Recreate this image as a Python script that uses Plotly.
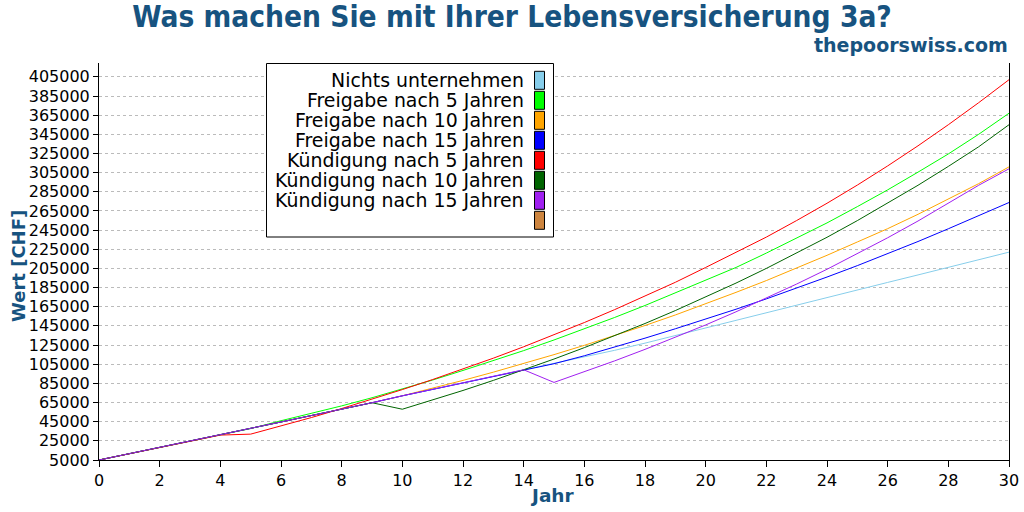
import plotly.graph_objects as go

years = list(range(0, 31))

nichts = [5000, 11500, 18000, 24500, 31000, 37800, 44700, 51400, 58000, 64800,
          72000, 78800, 85600, 92400, 99200, 105500, 112300, 119500, 127000, 135000,
          143000, 151000, 159000, 167000, 174800, 182600, 190400, 198200, 206000, 214000, 222000]

freigabe5 = [5000, 11500, 18000, 24500, 31000, 37800, 46000, 53500, 61500, 70000,
             79000, 88500, 98500, 108700, 119200, 130300, 141800, 153800, 166300, 179300,
             192500, 206000, 221000, 236500, 252500, 269500, 287000, 305500, 324500, 345000, 367000]

freigabe10 = [5000, 11500, 18000, 24500, 31000, 37800, 44700, 51400, 58000, 64800,
              72000, 79900, 88100, 96700, 105600, 115000, 124700, 134800, 145400, 156400,
              168000, 180000, 192300, 205200, 218700, 232600, 246500, 261500, 277500, 293500, 311000]

freigabe15 = [5000, 11500, 18000, 24500, 31000, 37800, 44700, 51400, 58000, 64800,
              72000, 78800, 85600, 92400, 99200, 105500, 113800, 122800, 132200, 142000,
              152000, 162400, 173200, 184400, 196000, 207900, 220300, 233100, 246400, 260100, 273800]

kuendigung5 = [5000, 11500, 18000, 24500, 31000, 32000, 40500, 49300, 58700, 68500,
               78500, 89000, 100000, 111300, 123200, 135500, 148500, 162000, 176000, 190500,
               206000, 221500, 237700, 255000, 273000, 292000, 312000, 333000, 355000, 378000, 402000]

kuendigung10 = [5000, 11500, 18000, 24500, 31000, 37800, 44700, 51400, 58000, 64800,
                58000, 67600, 77600, 88100, 99000, 110400, 122300, 134600, 147500, 161000,
                175000, 189700, 205000, 220900, 237500, 254900, 273000, 291800, 311500, 332000, 355000]

kuendigung15 = [5000, 11500, 18000, 24500, 31000, 37800, 44700, 51400, 58000, 64800,
                72000, 78800, 85600, 92400, 99200, 86000, 97000, 108500, 120500, 133000,
                146000, 159700, 173900, 188700, 204100, 220200, 237000, 254500, 272800, 291800, 309000]

series_names = ["Nichts unternehmen", "Freigabe nach 5 Jahren", "Freigabe nach 10 Jahren",
                "Freigabe nach 15 Jahren", "Kündigung nach 5 Jahren", "Kündigung nach 10 Jahren",
                "Kündigung nach 15 Jahren", ""]
series_values = [nichts, freigabe5, freigabe10, freigabe15, kuendigung5, kuendigung10, kuendigung15, None]
series_colors = ["#87CEEB", "#00FF00", "#FFA500", "#0000FF", "#FF0000", "#006400", "#A020F0", "#CD853F"]

y_ticks = [5000, 25000, 45000, 65000, 85000, 105000, 125000, 145000, 165000, 185000, 205000,
           225000, 245000, 265000, 285000, 305000, 325000, 345000, 365000, 385000, 405000]
x_ticks = list(range(0, 31, 2))

title_text = "Was machen Sie mit Ihrer Lebensversicherung 3a?"
subtitle_text = "thepoorswiss.com"
x_title = "Jahr"
y_title = "Wert [CHF]"

BLUE = "#175380"
W, H = 1024, 512
L, R, T, B = 99, 1009, 63, 460


def px(x):
    return (x - L) / (R - L)


def py(y):
    return (B - y) / (B - T)


fig = go.Figure()
for name, vals, col in zip(series_names, series_values, series_colors):
    if vals is None:
        continue
    fig.add_trace(go.Scatter(x=years, y=vals, mode="lines", name=name,
                             line=dict(color=col, width=1), showlegend=False,
                             hoverinfo="x+y+name"))

shapes = []
annotations = []
# legend box
shapes.append(dict(type="rect", xref="paper", yref="paper",
                   x0=px(266.5), x1=px(553.5), y0=py(237), y1=py(63.5),
                   line=dict(color="black", width=1), fillcolor="white", layer="above"))
for i, (name, col) in enumerate(zip(series_names, series_colors)):
    cy = 80.3 + 20 * i
    shapes.append(dict(type="rect", xref="paper", yref="paper",
                       x0=px(534.5), x1=px(544.5), y0=py(cy + 9), y1=py(cy - 9),
                       line=dict(color="black", width=1), fillcolor=col, layer="above"))
    if name:
        annotations.append(dict(text=name, xref="paper", yref="paper", x=px(526), y=py(cy),
                                xanchor="right", yanchor="middle", showarrow=False,
                                font=dict(family="DejaVu Sans", size=18.9, color="black")))

annotations.append(dict(text="<b>" + subtitle_text + "</b>", xref="paper", yref="paper",
                        x=px(1010), y=py(45), xanchor="right", yanchor="middle", showarrow=False,
                        font=dict(family="DejaVu Sans", size=19, color=BLUE)))
annotations.append(dict(text="<b>" + x_title + "</b>", xref="paper", yref="paper",
                        x=px(552), y=py(495), xanchor="center", yanchor="middle", showarrow=False,
                        font=dict(family="DejaVu Sans", size=18.5, color=BLUE)))
annotations.append(dict(text="<b>" + y_title + "</b>", xref="paper", yref="paper",
                        x=px(18), y=py(266), xanchor="center", yanchor="middle", showarrow=False,
                        textangle=-90,
                        font=dict(family="DejaVu Sans", size=18, color=BLUE)))

fig.update_layout(
    width=W, height=H,
    margin=dict(l=L, r=W - R, t=T, b=H - B, pad=0, autoexpand=False),
    paper_bgcolor="white", plot_bgcolor="white",
    title=dict(text="<b>" + title_text + "</b>", x=0.5, xref="container", xanchor="center",
               y=1 - 17 / H, yref="container", yanchor="middle",
               font=dict(family="DejaVu Sans Condensed, DejaVu Sans", size=29.6, color=BLUE)),
    shapes=shapes, annotations=annotations,
    font=dict(family="DejaVu Sans", size=16, color="black"),
)
fig.update_xaxes(range=[0, 30], tickmode="array", tickvals=x_ticks,
                 ticktext=[str(v) for v in x_ticks], ticks="outside", ticklen=6,
                 tickcolor="black", showline=True, linecolor="black", linewidth=1,
                 showgrid=False, zeroline=False, mirror=False, automargin=False,
                 tickfont=dict(family="DejaVu Sans", size=16, color="black"))
fig.update_yaxes(range=[5000, 5000 + (B - T) / 0.9579 * 1000], tickmode="array", tickvals=y_ticks,
                 ticktext=[str(v) for v in y_ticks], ticks="outside", ticklen=5,
                 tickcolor="black", showline=True, linecolor="black", linewidth=1,
                 mirror=True, showgrid=True, gridcolor="#bbbbbb", gridwidth=1,
                 griddash="3px,3px", zeroline=False, automargin=False,
                 tickfont=dict(family="DejaVu Sans", size=16, color="black"))

fig.write_html("out.html")
